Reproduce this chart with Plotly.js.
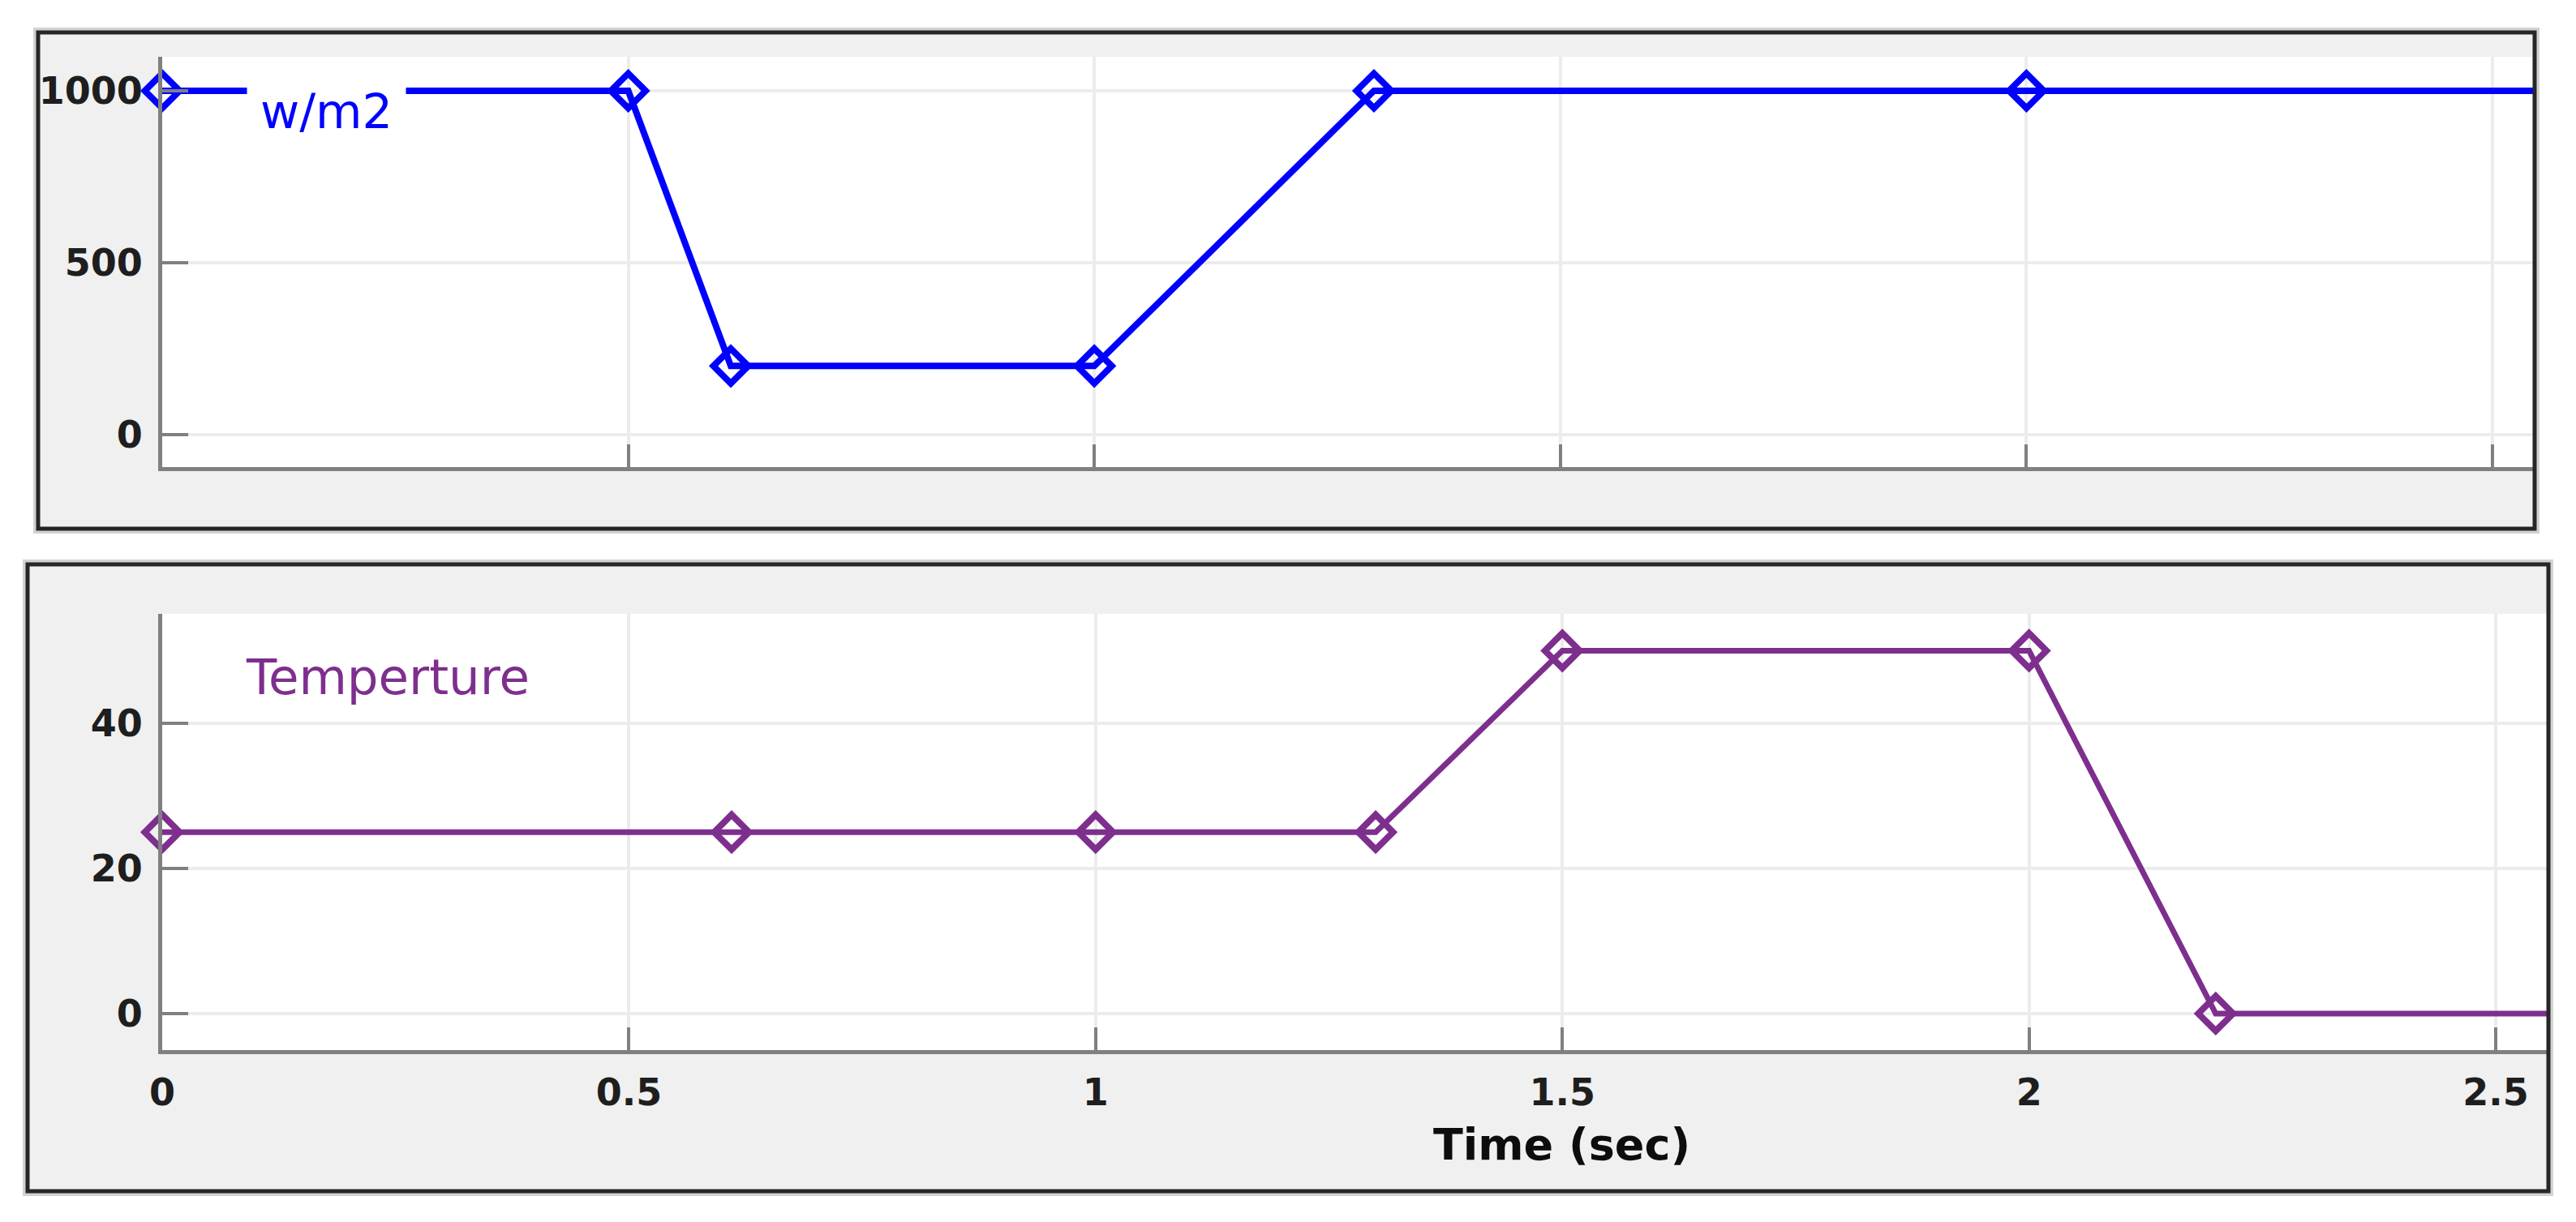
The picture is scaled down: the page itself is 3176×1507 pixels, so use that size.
<!DOCTYPE html>
<html>
<head>
<meta charset="utf-8">
<script src="https://cdn.plot.ly/plotly-3.0.1.min.js"></script>
<style>html,body{margin:0;padding:0;background:#fff;}#chart{width:3176px;height:1507px;}</style>
</head>
<body>
<div id="chart"></div>
<script>
// ---- data ----
const timeIrr = [0, 0.5, 0.61, 1.0, 1.3, 2.0, 2.6];
const irradiance = [1000, 1000, 200, 200, 1000, 1000, 1000];
const timeTemp = [0, 0.61, 1.0, 1.3, 1.5, 2.0, 2.2, 2.6];
const temperature = [25, 25, 25, 25, 50, 50, 0, 0];
const xTicks = [0, 0.5, 1, 1.5, 2, 2.5];
const xTickText = ['0', '0.5', '1', '1.5', '2', '2.5'];
const irrTicks = [0, 500, 1000];
const tempTicks = [0, 20, 40];
const irrLabel = 'w/m2';
const tempLabel = 'Temperture';
const xLabel = 'Time (sec)';

// ---- layout helpers (pixel -> paper) ----
const W = 3176, H = 1507;
const px = v => v / W;
const py = v => 1 - v / H;

const xMaxTop = 2.5435, xMaxBottom = 2.5547;
const markerSizes = (ts, xmax) => ts.map(t => (t <= xmax ? 33 : 0));

const tickFont = {family: 'DejaVu Sans', size: 46, color: '#1e1e1e', weight: 'bold'};

function rect(x0, y0, x1, y1, opts) {
  return Object.assign({type: 'rect', xref: 'paper', yref: 'paper',
    x0: px(x0), x1: px(x1), y0: py(y1), y1: py(y0)}, opts);
}

const shapes = [
  // soft halo around the panel borders
  rect(43, 36, 3129, 656, {fillcolor: 'rgba(0,0,0,0)', line: {color: '#d2d2d2', width: 4}, layer: 'below'}),
  rect(30, 692, 3146, 1473, {fillcolor: 'rgba(0,0,0,0)', line: {color: '#d2d2d2', width: 4}, layer: 'below'}),
  // grey panel backgrounds
  rect(47, 40, 3125, 652, {fillcolor: '#f0f0f0', line: {width: 0}, layer: 'below'}),
  rect(34, 696, 3142, 1469, {fillcolor: '#f0f0f0', line: {width: 0}, layer: 'below'}),
  // white plot areas
  rect(200, 70, 3123, 576, {fillcolor: '#ffffff', line: {width: 0}, layer: 'below'}),
  rect(200, 757, 3140, 1295, {fillcolor: '#ffffff', line: {width: 0}, layer: 'below'}),
  // dark panel borders
  rect(47, 40, 3125, 652, {fillcolor: 'rgba(0,0,0,0)', line: {color: '#262626', width: 5}, layer: 'above'}),
  rect(34, 696, 3142, 1469, {fillcolor: 'rgba(0,0,0,0)', line: {color: '#262626', width: 5}, layer: 'above'})
];

const traces = [
  {
    x: timeIrr, y: irradiance, xaxis: 'x', yaxis: 'y', type: 'scatter', mode: 'lines+markers',
    cliponaxis: false,
    line: {color: '#0000ff', width: 8},
    marker: {symbol: 'diamond-open', size: markerSizes(timeIrr, xMaxTop), opacity: 1, color: '#0000ff', line: {color: '#0000ff', width: 8}},
    showlegend: false, hoverinfo: 'skip'
  },
  {
    x: timeTemp, y: temperature, xaxis: 'x2', yaxis: 'y2', type: 'scatter', mode: 'lines+markers',
    cliponaxis: false,
    line: {color: '#7e2f8e', width: 7},
    marker: {symbol: 'diamond-open', size: markerSizes(timeTemp, xMaxBottom), opacity: 1, color: '#7e2f8e', line: {color: '#7e2f8e', width: 8}},
    showlegend: false, hoverinfo: 'skip'
  }
];

const commonX = {
  tickvals: xTicks, ticktext: xTickText, ticks: 'inside', ticklen: 28, tickwidth: 4, tickcolor: '#808080',
  showgrid: true, gridcolor: '#ececec', gridwidth: 4, zeroline: false,
  showline: true, linecolor: '#808080', linewidth: 5, fixedrange: true, tickfont: tickFont
};
const commonY = {
  ticks: 'inside', ticklen: 32, tickwidth: 4, tickcolor: '#808080',
  showgrid: true, gridcolor: '#ececec', gridwidth: 4, zeroline: false,
  showline: true, linecolor: '#808080', linewidth: 5, fixedrange: true, tickfont: tickFont,
  ticklabelstandoff: 10
};

const layout = {
  width: W, height: H,
  margin: {l: 0, r: 0, t: 0, b: 0, pad: 0},
  paper_bgcolor: '#ffffff', plot_bgcolor: 'rgba(0,0,0,0)',
  showlegend: false,
  xaxis: Object.assign({}, commonX, {domain: [px(200), px(3123)], range: [0, xMaxTop], anchor: 'y', showticklabels: false}),
  yaxis: Object.assign({}, commonY, {domain: [py(576), py(70)], range: [-94, 1099], anchor: 'x', tickvals: irrTicks}),
  xaxis2: Object.assign({}, commonX, {domain: [px(200), px(3140)], range: [0, xMaxBottom], anchor: 'y2', showticklabels: true, ticklabelstandoff: 8}),
  yaxis2: Object.assign({}, commonY, {domain: [py(1295), py(757)], range: [-5.03, 55.08], anchor: 'x2', tickvals: tempTicks}),
  shapes: shapes,
  annotations: [
    {text: irrLabel, xref: 'paper', yref: 'paper', x: px(402), y: py(137), xanchor: 'center', yanchor: 'middle',
     showarrow: false, bgcolor: '#ffffff', width: 195, height: 62, borderpad: 0,
     font: {family: 'DejaVu Sans', size: 59, color: '#0000ff'}},
    {text: tempLabel, xref: 'paper', yref: 'paper', x: px(301), y: py(834), xanchor: 'left', yanchor: 'middle',
     showarrow: false, font: {family: 'DejaVu Sans', size: 61, color: '#7e2f8e'}},
    {text: xLabel, xref: 'paper', yref: 'paper', x: px(1926), y: py(1411), xanchor: 'center', yanchor: 'middle',
     showarrow: false, font: {family: 'DejaVu Sans', size: 54, color: '#0d0d0d', weight: 'bold'}}
  ]
};

Plotly.newPlot('chart', traces, layout, {staticPlot: true, displayModeBar: false});
</script>
</body>
</html>
